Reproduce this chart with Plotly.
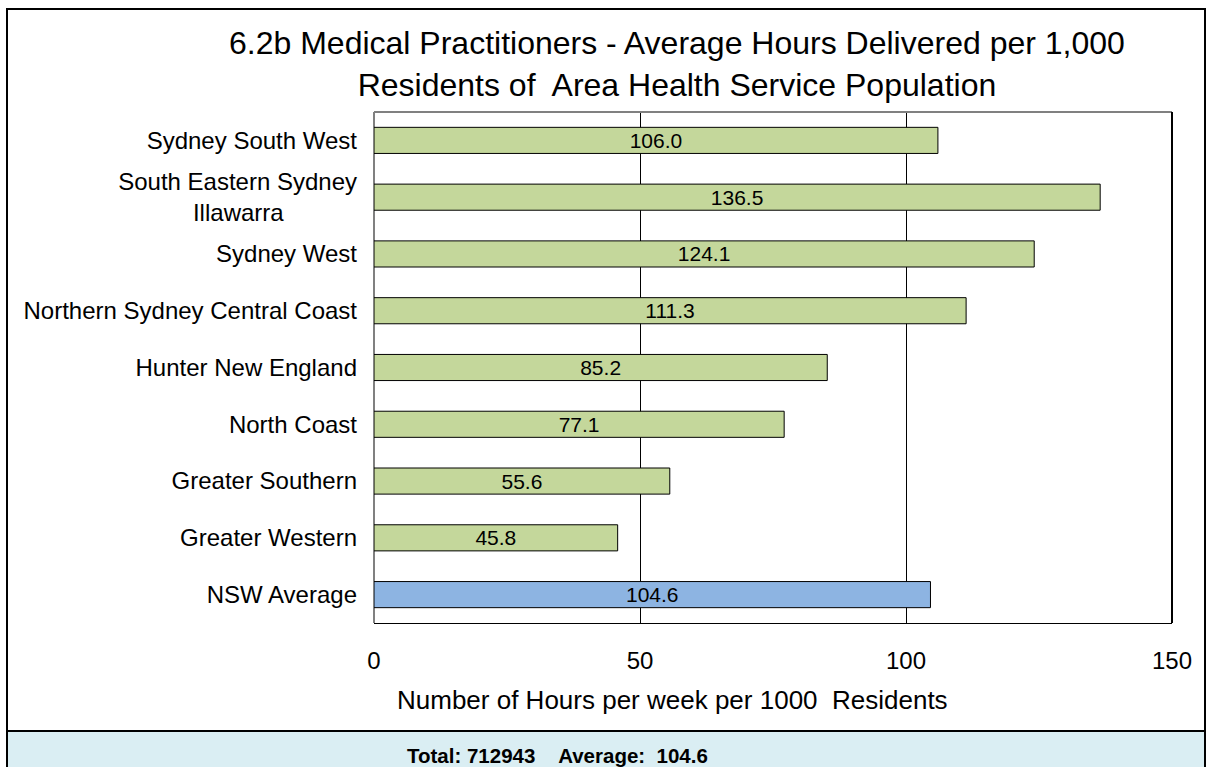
import plotly.graph_objects as go

categories = ["Sydney South West", "South Eastern Sydney<br>Illawarra", "Sydney West",
              "Northern Sydney Central Coast", "Hunter New England", "North Coast",
              "Greater Southern", "Greater Western", "NSW Average"]
values = [106.0, 136.5, 124.1, 111.3, 85.2, 77.1, 55.6, 45.8, 104.6]
bar_colors = ["#C4D79B"] * 8 + ["#8DB4E2"]
x_ticks = [0, 50, 100, 150]
title_text = "6.2b Medical Practitioners - Average Hours Delivered per 1,000<br>Residents of  Area Health Service Population"
x_title = "Number of Hours per week per 1000  Residents"
footer_text = "Total: 712943\u00a0\u00a0\u00a0\u00a0Average:\u00a0 104.6"

W, H = 1206, 767
L, R, T, B = 374, 1172, 112, 623  # plot area pixel bounds

def px(x):
    return (x - L) / (R - L)

def py(y):
    return (B - y) / (B - T)

FONT = "Liberation Sans, Arial, sans-serif"

# tick labels: centre the second line of the wrapped label under the first
tick_labels = [c.replace("<br>Illawarra", "<br>Illawarra" + "\u00a0" * 11) for c in categories]

fig = go.Figure(go.Bar(
    x=values, y=categories, orientation="h",
    marker=dict(color=bar_colors, line=dict(color="black", width=1)),
    text=[f"{v:.1f}" for v in values], textposition="inside",
    insidetextanchor="middle", textangle=0, constraintext="none",
    textfont=dict(family=FONT, size=21, color="black"),
    width=0.46,
))

fig.update_layout(
    width=W, height=H,
    margin=dict(l=L, r=W - R, t=T, b=H - B, pad=0),
    paper_bgcolor="white", plot_bgcolor="white",
    font=dict(family=FONT, size=24, color="black"),
    showlegend=False,
    uniformtext=dict(mode=False),
)

fig.update_xaxes(
    range=[0, 150], tickvals=x_ticks, showgrid=True, gridcolor="black", gridwidth=1,
    zeroline=True, zerolinecolor="#808080", zerolinewidth=2,
    showline=True, linecolor="black", linewidth=1,
    ticks="", ticklabelstandoff=16,
    tickfont=dict(family=FONT, size=24),
    fixedrange=True,
)
fig.update_yaxes(
    autorange="reversed", showgrid=False, ticks="", ticklabelstandoff=16,
    tickvals=categories, ticktext=tick_labels,
    tickfont=dict(family=FONT, size=24), fixedrange=True,
)

shapes = [
    # outer frame
    dict(type="rect", xref="paper", yref="paper", x0=px(7), x1=px(1205), y0=py(731), y1=py(9),
         line=dict(color="black", width=2), fillcolor="rgba(0,0,0,0)", layer="below"),
    # footer box
    dict(type="rect", xref="paper", yref="paper", x0=px(7), x1=px(1205), y0=py(770), y1=py(731),
         line=dict(color="black", width=2), fillcolor="#DAEEF3", layer="below"),
    # plot area top border
    dict(type="line", xref="paper", yref="paper", x0=0, x1=1, y0=1, y1=1,
         line=dict(color="#808080", width=2)),
    # plot area right border
    dict(type="line", xref="paper", yref="paper", x0=1, x1=1, y0=0, y1=1,
         line=dict(color="black", width=2)),
]
fig.update_layout(shapes=shapes)

fig.add_annotation(text=title_text, xref="paper", yref="paper", x=px(677), y=py(64),
                   xanchor="center", yanchor="middle", showarrow=False,
                   font=dict(family=FONT, size=32, color="black"), align="center")
fig.add_annotation(text=x_title, xref="paper", yref="paper", x=px(672), y=py(700),
                   xanchor="center", yanchor="middle", showarrow=False,
                   font=dict(family=FONT, size=26, color="black"))
fig.add_annotation(text="<b>" + footer_text + "</b>", xref="paper", yref="paper",
                   x=px(557), y=py(755), xanchor="center", yanchor="middle", showarrow=False,
                   font=dict(family=FONT, size=20.5, color="black"))

fig.write_html("out.html", config={"displayModeBar": False},
               post_script="document.body.style.margin='0';")
